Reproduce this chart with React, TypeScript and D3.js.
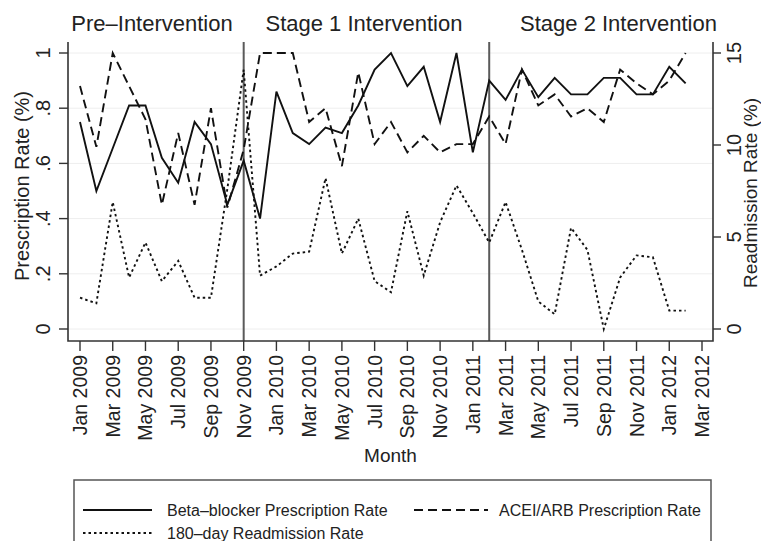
import React, { useEffect, useRef } from 'react';
import * as d3 from 'd3';

const months = [
  'Jan 2009', 'Feb 2009', 'Mar 2009', 'Apr 2009', 'May 2009', 'Jun 2009', 'Jul 2009', 'Aug 2009',
  'Sep 2009', 'Oct 2009', 'Nov 2009', 'Dec 2009', 'Jan 2010', 'Feb 2010', 'Mar 2010', 'Apr 2010',
  'May 2010', 'Jun 2010', 'Jul 2010', 'Aug 2010', 'Sep 2010', 'Oct 2010', 'Nov 2010', 'Dec 2010',
  'Jan 2011', 'Feb 2011', 'Mar 2011', 'Apr 2011', 'May 2011', 'Jun 2011', 'Jul 2011', 'Aug 2011',
  'Sep 2011', 'Oct 2011', 'Nov 2011', 'Dec 2011', 'Jan 2012', 'Feb 2012',
];

const tickLabels = [
  'Jan 2009', 'Mar 2009', 'May 2009', 'Jul 2009', 'Sep 2009', 'Nov 2009', 'Jan 2010',
  'Mar 2010', 'May 2010', 'Jul 2010', 'Sep 2010', 'Nov 2010', 'Jan 2011', 'Mar 2011',
  'May 2011', 'Jul 2011', 'Sep 2011', 'Nov 2011', 'Jan 2012', 'Mar 2012',
];

const betaBlocker = [
  0.75, 0.50, 0.655, 0.81, 0.81, 0.62, 0.53, 0.75, 0.67, 0.45, 0.61, 0.40, 0.86, 0.71, 0.67, 0.73,
  0.71, 0.81, 0.94, 1.0, 0.88, 0.95, 0.75, 1.0, 0.64, 0.90, 0.83, 0.94, 0.84, 0.91, 0.85, 0.85,
  0.91, 0.91, 0.85, 0.85, 0.95, 0.89,
];

const aceiArb = [
  0.88, 0.66, 1.0, 0.88, 0.76, 0.45, 0.71, 0.45, 0.80, 0.44, 0.65, 1.0, 1.0, 1.0, 0.75, 0.80,
  0.59, 0.93, 0.67, 0.75, 0.64, 0.70, 0.64, 0.67, 0.67, 0.77, 0.67, 0.94, 0.81, 0.85, 0.77, 0.80,
  0.75, 0.94, 0.89, 0.85, 0.90, 1.0,
];

const readmission = [
  1.7, 1.4, 6.9, 2.8, 4.7, 2.6, 3.7, 1.7, 1.7, 7.6, 14.1, 2.9, 3.4, 4.1, 4.2, 8.2,
  4.1, 6.0, 2.6, 2.0, 6.4, 2.9, 5.8, 7.8, 6.3, 4.7, 6.9, 4.3, 1.5, 0.8, 5.5, 4.3,
  0.0, 2.8, 4.0, 3.9, 1.0, 1.0,
];

const leftTicks = [0, 0.2, 0.4, 0.6, 0.8, 1];
const rightTicks = [0, 5, 10, 15];
const phases = [
  { label: 'Pre–Intervention', at: 4.4 },
  { label: 'Stage 1 Intervention', at: 17.35 },
  { label: 'Stage 2 Intervention', at: 32.9 },
];
const phaseBreaks = ['Nov 2009', 'Feb 2011'];

const FONT = '"Liberation Sans", Arial, Helvetica, sans-serif';

const App = () => {
  const ref = useRef<SVGSVGElement>(null);

  useEffect(() => {
    const svg = d3.select(ref.current);
    svg.selectAll('*').remove();

    const W = 761, H = 541;
    const frame = { left: 68, right: 713, top: 42, bottom: 341 };

    const idx = (m: string) => months.indexOf(m);
    const tickIdx = (m: string) => {
      const [mon, yr] = m.split(' ');
      const mi = ['Jan','Feb','Mar','Apr','May','Jun','Jul','Aug','Sep','Oct','Nov','Dec'].indexOf(mon);
      return (+yr - 2009) * 12 + mi;
    };

    const x = d3.scaleLinear().domain([0, 38]).range([80, 702]);
    const yL = d3.scaleLinear().domain([0, 1]).range([329, 53]);
    const yR = d3.scaleLinear().domain([0, 15]).range([329, 53]);

    svg.append('rect').attr('width', W).attr('height', H).attr('fill', '#fff');

    // faint grid
    svg.append('g').selectAll('line').data(leftTicks).enter().append('line')
      .attr('x1', frame.left).attr('x2', frame.right)
      .attr('y1', d => yL(d)).attr('y2', d => yL(d))
      .attr('stroke', '#eeeeee').attr('stroke-width', 1);

    // phase separators
    svg.append('g').selectAll('line').data(phaseBreaks).enter().append('line')
      .attr('x1', d => x(idx(d))).attr('x2', d => x(idx(d)))
      .attr('y1', frame.top).attr('y2', frame.bottom)
      .attr('stroke', '#5a5a5a').attr('stroke-width', 2);

    const series = [
      { values: betaBlocker, y: yL, dash: null },
      { values: aceiArb, y: yL, dash: '9,5' },
      { values: readmission, y: yR, dash: '2.5,3' },
    ];

    series.forEach(s => {
      const line = d3.line<number>()
        .x((_, i) => x(i))
        .y(d => s.y(d));
      svg.append('path')
        .datum(s.values)
        .attr('d', line)
        .attr('fill', 'none')
        .attr('stroke', '#111')
        .attr('stroke-width', 1.9)
        .attr('stroke-linejoin', 'miter')
        .attr('stroke-dasharray', s.dash);
    });

    // axes (no top border)
    const axisColor = '#333';
    svg.append('path')
      .attr('d', `M${frame.left},${frame.top}V${frame.bottom}H${frame.right}V${frame.top}`)
      .attr('fill', 'none').attr('stroke', axisColor).attr('stroke-width', 1.6);

    // left ticks
    const gl = svg.append('g');
    gl.selectAll('line').data(leftTicks).enter().append('line')
      .attr('x1', frame.left - 9).attr('x2', frame.left)
      .attr('y1', d => yL(d)).attr('y2', d => yL(d))
      .attr('stroke', axisColor).attr('stroke-width', 1.4);
    gl.selectAll('text').data(leftTicks).enter().append('text')
      .attr('transform', d => `translate(50,${yL(d)}) rotate(-90)`)
      .attr('text-anchor', 'middle')
      .attr('font-family', FONT).attr('font-size', 20).attr('fill', '#222')
      .text(d => (d === 0 || d === 1 ? String(d) : d3.format('.1f')(d).replace(/^0/, '')));

    // right ticks
    const gr = svg.append('g');
    gr.selectAll('line').data(rightTicks).enter().append('line')
      .attr('x1', frame.right).attr('x2', frame.right + 8)
      .attr('y1', d => yR(d)).attr('y2', d => yR(d))
      .attr('stroke', axisColor).attr('stroke-width', 1.4);
    gr.selectAll('text').data(rightTicks).enter().append('text')
      .attr('transform', d => `translate(741,${yR(d)}) rotate(-90)`)
      .attr('text-anchor', 'middle')
      .attr('font-family', FONT).attr('font-size', 20).attr('fill', '#222')
      .text(d => String(d));

    // bottom ticks
    const gb = svg.append('g');
    gb.selectAll('line').data(tickLabels).enter().append('line')
      .attr('x1', d => x(tickIdx(d))).attr('x2', d => x(tickIdx(d)))
      .attr('y1', frame.bottom).attr('y2', frame.bottom + 10)
      .attr('stroke', axisColor).attr('stroke-width', 1.4);
    gb.selectAll('text').data(tickLabels).enter().append('text')
      .attr('transform', d => `translate(${x(tickIdx(d)) + 7},355) rotate(-90)`)
      .attr('text-anchor', 'end')
      .attr('font-family', FONT).attr('font-size', 19.5).attr('fill', '#222')
      .text(d => d);

    // axis titles
    svg.append('text')
      .attr('transform', 'translate(29,186) rotate(-90)')
      .attr('text-anchor', 'middle')
      .attr('font-family', FONT).attr('font-size', 20).attr('fill', '#222')
      .text('Prescription Rate (%)');
    svg.append('text')
      .attr('transform', 'translate(757,193) rotate(-90)')
      .attr('text-anchor', 'middle')
      .attr('font-family', FONT).attr('font-size', 19).attr('fill', '#222')
      .text('Readmission Rate (%)');
    svg.append('text')
      .attr('x', (frame.left + frame.right) / 2).attr('y', 462)
      .attr('text-anchor', 'middle')
      .attr('font-family', FONT).attr('font-size', 19).attr('fill', '#222')
      .text('Month');

    // phase titles
    svg.append('g').selectAll('text').data(phases).enter().append('text')
      .attr('x', d => x(d.at)).attr('y', 31)
      .attr('text-anchor', 'middle')
      .attr('font-family', FONT).attr('font-size', 22).attr('fill', '#222')
      .text(d => d.label);

    // legend
    const lg = svg.append('g');
    lg.append('rect')
      .attr('x', 74).attr('y', 480).attr('width', 637).attr('height', 80)
      .attr('fill', '#fff').attr('stroke', '#555').attr('stroke-width', 1.5);
    const items = [
      { label: 'Beta–blocker Prescription Rate', dash: null, x0: 83, x1: 152, tx: 167, y: 510 },
      { label: 'ACEI/ARB Prescription Rate', dash: '9,5', x0: 414, x1: 488, tx: 499, y: 510 },
      { label: '180–day Readmission Rate', dash: '2.5,3', x0: 83, x1: 152, tx: 167, y: 533 },
    ];
    items.forEach(it => {
      lg.append('line')
        .attr('x1', it.x0).attr('x2', it.x1).attr('y1', it.y).attr('y2', it.y)
        .attr('stroke', '#111').attr('stroke-width', 1.9)
        .attr('stroke-dasharray', it.dash);
      lg.append('text')
        .attr('x', it.tx).attr('y', it.y + 5.5)
        .attr('font-family', FONT).attr('font-size', 16).attr('fill', '#222')
        .text(it.label);
    });
  }, []);

  return (
    <svg ref={ref} width={761} height={541}
      style={{ position: 'absolute', left: 0, top: 0, display: 'block' }} />
  );
};

export default App;
